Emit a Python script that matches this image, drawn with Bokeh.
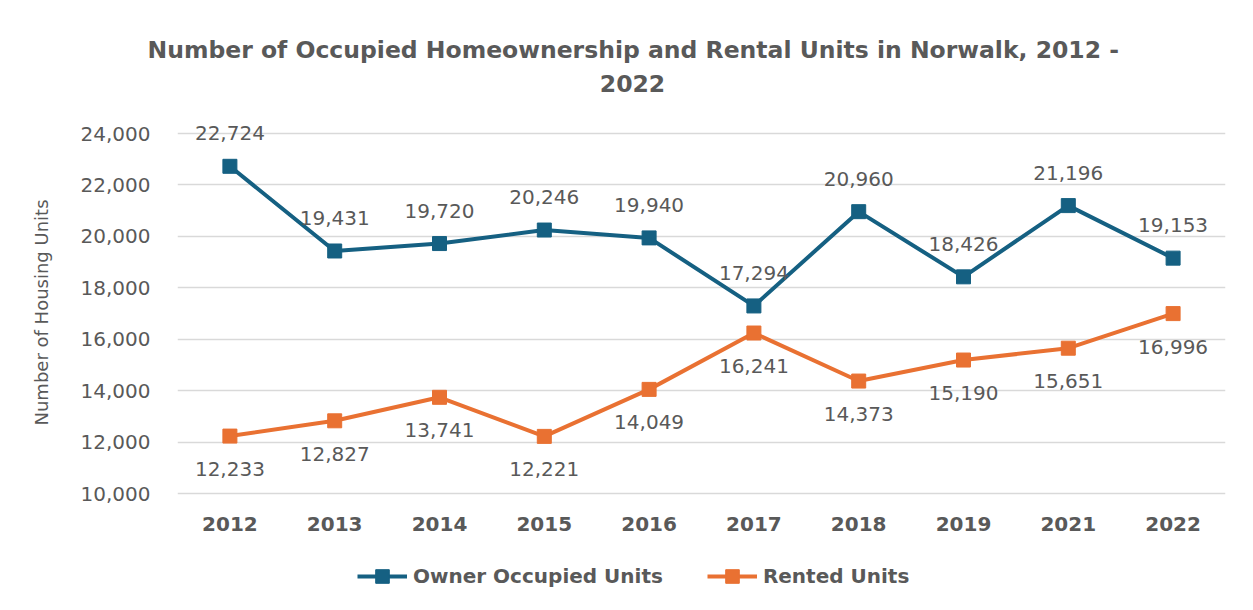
from bokeh.plotting import figure
from bokeh.models import (FactorRange, Range1d, FixedTicker, NumeralTickFormatter,
                          ColumnDataSource, Legend, LegendItem, Label, Title)
from bokeh.core.properties import value
from bokeh.embed import file_html
from bokeh.resources import INLINE

years = ["2012", "2013", "2014", "2015", "2016", "2017", "2018", "2019", "2021", "2022"]
owner = [22724, 19431, 19720, 20246, 19940, 17294, 20960, 18426, 21196, 19153]
rented = [12233, 12827, 13741, 12221, 14049, 16241, 14373, 15190, 15651, 16996]
y_ticks = [10000, 12000, 14000, 16000, 18000, 20000, 22000, 24000]
title_lines = ["Number of Occupied Homeownership and Rental Units in Norwalk, 2012 -", "2022"]
y_label = "Number of Housing Units"
series_names = ["Owner Occupied Units", "Rented Units"]

BLUE = "#156082"
ORANGE = "#E97132"
TXT = "#595959"
FONT = "DejaVu Sans"

# layout (pixels)
W, H = 1237, 594
LEFT, RIGHT, TOP = 177, 12, 66
Y_TOP_PX, Y_BOT_PX = 133, 493          # where 24,000 and 10,000 sit
PX_PER_UNIT = (Y_BOT_PX - Y_TOP_PX) / (y_ticks[-1] - y_ticks[0])
Y_END = y_ticks[-1] + (Y_TOP_PX - TOP) / PX_PER_UNIT
Y_START = y_ticks[0] - (H - Y_BOT_PX) / PX_PER_UNIT   # frame reaches the canvas bottom
CAT_PX = (W - LEFT - RIGHT) / len(years)


def y_at(px):
    """data y for a pixel row (layout helper for the second title line)"""
    return y_ticks[-1] + (Y_TOP_PX - px) / PX_PER_UNIT


src = ColumnDataSource(dict(
    x=years, owner=owner, rented=rented,
    owner_lbl=[f"{v:,}" for v in owner],
    rented_lbl=[f"{v:,}" for v in rented],
))

p = figure(width=W, height=H, x_range=FactorRange(*years, range_padding=0),
           y_range=Range1d(Y_START, Y_END), output_backend="svg", toolbar_location=None,
           min_border_left=LEFT, min_border_right=RIGHT, min_border_top=TOP, min_border_bottom=0)
p.outline_line_color = None
p.background_fill_color = "white"
p.border_fill_color = "white"

p.xgrid.grid_line_color = None
p.ygrid.grid_line_color = "#D9D9D9"
p.ygrid.grid_line_width = 1.5

p.yaxis.ticker = FixedTicker(ticks=y_ticks)
p.yaxis.formatter = NumeralTickFormatter(format="0,0")
for ax in (p.xaxis[0], p.yaxis[0]):
    ax.axis_line_color = None
    ax.major_tick_line_color = None
    ax.minor_tick_line_color = None
    ax.major_tick_out = 0
    ax.major_tick_in = 0
    ax.minor_tick_out = 0
    ax.major_label_text_color = TXT
    ax.major_label_text_font = FONT
    ax.major_label_text_font_size = "20px"
p.xaxis.fixed_location = y_ticks[0]
p.xaxis.major_label_text_font_style = "bold"
p.xaxis.major_label_standoff = 23
p.yaxis.major_label_standoff = 27

l1 = p.line("x", "owner", source=src, line_color=BLUE, line_width=4)
s1 = p.scatter("x", "owner", source=src, marker="square", size=14, fill_color=BLUE, line_color=BLUE)
l2 = p.line("x", "rented", source=src, line_color=ORANGE, line_width=4)
s2 = p.scatter("x", "rented", source=src, marker="square", size=14, fill_color=ORANGE, line_color=ORANGE)

p.text("x", "owner", text="owner_lbl", source=src, y_offset=-33, text_align="center",
       text_baseline="middle", text_font=value(FONT), text_font_size="20px", text_color=TXT)
p.text("x", "rented", text="rented_lbl", source=src, y_offset=33, text_align="center",
       text_baseline="middle", text_font=value(FONT), text_font_size="20px", text_color=TXT)

# title line 1 in the top panel, line 2 inside the frame
p.add_layout(Title(text=title_lines[0], align="left", offset=-30, standoff=6,
                   text_font=FONT, text_font_size="23.5px", text_font_style="bold",
                   text_color=TXT), "above")
title_x = (632 - LEFT) / CAT_PX          # chart-area centre, in category units
p.add_layout(Label(x=title_x, y=y_at(83), text=title_lines[1], text_align="center",
                   text_baseline="middle", text_font=FONT, text_font_size="23.5px",
                   text_font_style="bold", text_color=TXT))

# y-axis title, placed outside the tick labels
p.add_layout(Title(text=y_label, align="left", offset=169, standoff=52,
                   text_font=FONT, text_font_size="18px", text_font_style="normal",
                   text_color=TXT), "left")

legend = Legend(items=[LegendItem(label=series_names[0], renderers=[l1, s1]),
                       LegendItem(label=series_names[1], renderers=[l2, s2])],
                orientation="horizontal", location=(180, 1), padding=0, margin=0,
                spacing=44, glyph_width=50, glyph_height=34, label_height=20,
                label_standoff=6, label_text_font=FONT, label_text_font_size="20px",
                label_text_font_style="bold", label_text_color=TXT,
                border_line_color=None, background_fill_alpha=0)
p.add_layout(legend, "center")

open("out.html", "w").write(file_html(p, INLINE))
